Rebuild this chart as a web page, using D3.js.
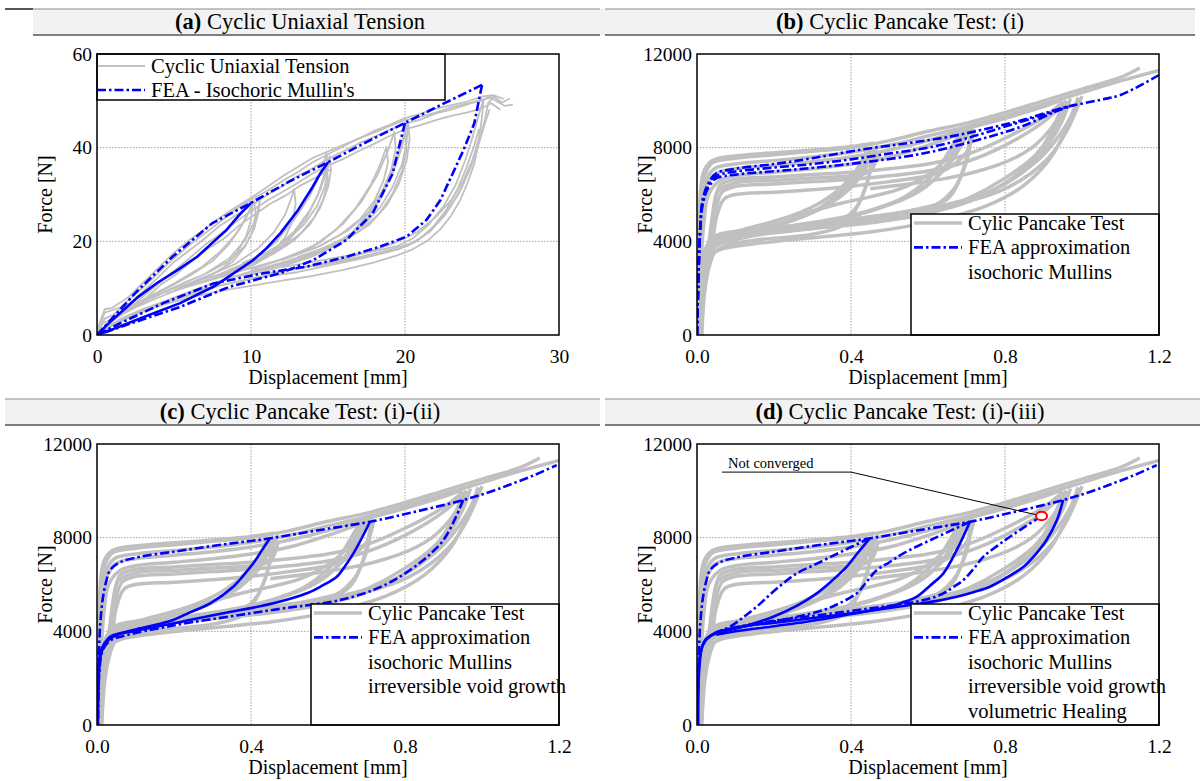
<!DOCTYPE html>
<html>
<head>
<meta charset="utf-8">
<script src="https://cdn.jsdelivr.net/npm/d3@7"></script>
<style>
body { margin: 0; background: #fff; }
svg { font-family: "Liberation Serif", "Times New Roman", serif; }
</style>
</head>
<body>
<svg width="1200" height="781"></svg>
<script>
// panel titles, legends, ticks
let panelLetters = ["(a)", "(b)", "(c)", "(d)"];
let panelTitles = ["Cyclic Uniaxial Tension", "Cyclic Pancake Test: (i)", "Cyclic Pancake Test: (i)-(ii)", "Cyclic Pancake Test: (i)-(iii)"];
let legendA = ["Cyclic Uniaxial Tension", "FEA - Isochoric Mullin's"];
let legendB = ["Cylic Pancake Test", "FEA approximation", "isochoric Mullins"];
let legendC = ["Cylic Pancake Test", "FEA approximation", "isochoric Mullins", "irreversible void growth"];
let legendD = ["Cylic Pancake Test", "FEA approximation", "isochoric Mullins", "irreversible void growth", "volumetric Healing"];
let tensionXTicks = [0, 10, 20, 30], tensionYTicks = [0, 20, 40, 60];
let pancakeXTicks = [0, 0.4, 0.8, 1.2], pancakeYTicks = [0, 4000, 8000, 12000];
let notConvergedLabel = "Not converged";
let notConvergedPoint = [0.895, 8924];
let notConvergedLine = [[0.065, 10800], [0.4, 10800]];

// (a) uniaxial tension, experiment [mm, N]
let tensionVirgin = [
  [[0,0],[0.5,3.5],[1,4.2],[1.5,5.6],[2,6.4],[3,9.3],[4,12.4],[5,15.6],[6,18.1],[7,20.6],[8,23.4],[9,25.5],[10,27.6],[11,29.8],[12,31.7],[13,33.9],[14,35.6],[15,37.6],[16,39.2],[17,40.9],[18,42.3],[19,43.8],[20,45.1],[21,46.0],[22,47.3],[23,48.1],[24,49.2],[25,50.3],[25.8,50.8],[26.3,49.6],[26.8,50.5]],
  [[0,0.5],[0.5,4.8],[1,5.3],[1.5,5.9],[2,7.3],[3,10.2],[4,13.3],[5,16.4],[6,19.2],[7,21.7],[8,24.2],[9,26.8],[10,28.9],[11,30.7],[12,32.8],[13,34.7],[14,36.9],[15,38.6],[16,40.3],[17,42.0],[18,43.2],[19,44.6],[20,45.9],[21,46.6],[22,47.5],[23,48.6],[24,49.4],[25,50.0],[25.5,50.9],[26,49.8],[26.5,48.9],[27,49.2]],
  [[0,0],[1,3.1],[2,5.5],[3,8.2],[4,11.0],[5,13.7],[6,16.4],[7,19.2],[8,21.5],[9,24.1],[10,26.4],[11,28.6],[12,30.5],[13,32.4],[14,34.5],[15,36.2],[16,37.6],[17,39.3],[18,40.8],[19,42.5],[20,43.9],[21,44.8],[22,45.9],[23,46.8],[24,47.5],[25,48.4],[25.6,49.5],[26.2,48.1]],
  [[0,1],[0.5,5.5],[1,5.8],[2,8],[3,11.2],[4,14.4],[5,17.6],[6,20.3],[7,22.6],[8,25.1],[9,27.3],[10,29.3],[11,31.5],[12,33.8],[13,35.8],[14,37.8],[15,39.2],[16,40.6],[17,41.9],[18,43.6],[19,44.9],[20,46.3],[21,47.2],[22,48.3],[23,49.1],[24,49.8],[25,50.9],[25.7,51.2],[26.4,50.4]],
  [[0,0],[0.4,2.6],[1,3.4],[1.6,4.9],[2.4,6.1],[3.2,7.9],[4.2,10.9],[5.2,13.1],[6.2,15.9],[7.2,18.4],[8.2,20.5],[9.2,23.3],[10.2,25.6],[11.2,27.9],[12.2,29.7],[13.2,31.9],[14.2,33.6],[15.2,35.4]]
];
let tensionLoops = [
  [[0.5,2],[2,5.2],[4,9],[6,12.6],[7.5,15.8],[8.5,19.1],[9.3,22.8],[9.8,26],[10.1,27.8],[10.0,24.5],[9.7,21.2],[9.1,17.6],[8.2,14.3],[7,12.1],[5.5,10],[4,8],[2.5,5.9],[1,3.3]],
  [[1,3.8],[3,7.5],[5,11],[6.8,14.5],[8,17.8],[9,21.5],[9.7,25.1],[10.2,28.6],[10.3,25.8],[10.1,22.1],[9.6,18.8],[8.8,15.6],[7.6,13.2],[6,11.1],[4.5,9.3],[3,7],[1.5,4.6]],
  [[3,7],[5,10.2],[7,13],[8.6,16.4],[9.6,20.2],[10.2,24],[10.5,27.4],[10.6,29.5],[10.5,26.4],[10.2,22.6],[9.6,19],[8.6,15.8],[7.2,13.3],[5.5,11]],
  [[5,9.5],[7,12.3],[9,15.2],[10.5,18.6],[11.5,22],[12.2,25.6],[12.6,29],[12.8,31.2],[12.9,28],[12.7,24.3],[12.2,20.8],[11.4,17.5],[10.2,15],[8.5,12.8],[6.5,10.9],[4.5,8.9]],
  [[6,11],[8,13],[10,15.3],[11.5,18.2],[12.8,22.1],[13.8,26.5],[14.5,31],[14.9,35],[15.1,38.2],[15.2,35.2],[15.0,31.5],[14.5,27.2],[13.8,23.5],[12.8,20.2],[11.5,17.4],[10,15],[8,12.6],[6,10.5]],
  [[7,11.5],[9,13.6],[11,16.5],[12.5,20.4],[13.6,25],[14.3,29.5],[14.7,33.6],[14.9,36.4],[15.0,33],[14.7,29],[14.1,25.1],[13.2,21.6],[12,18.7],[10.5,16.1],[8.5,13.8]],
  [[8,13],[10,15.9],[11.6,19.8],[12.8,24.6],[13.8,29.6],[14.5,34.4],[14.9,38.8],[15.0,35.8],[14.8,31.8],[14.3,27.6],[13.5,23.8],[12.4,20.4],[11,17.6],[9.4,15.3]],
  [[8,12.5],[10,14.3],[12,16.2],[14,18.9],[15.5,22.4],[16.8,27.1],[17.8,32.2],[18.4,36.5],[18.8,40.2],[18.9,36.8],[18.6,32.9],[18,28.6],[17.1,24.8],[15.8,21.4],[14.2,18.6],[12,16]],
  [[10,14],[12.5,16.6],[14.5,19.8],[16,23.8],[17.2,28.6],[18.2,34.1],[18.9,39.4],[19.3,43.4],[19.4,39.8],[19.1,35.2],[18.5,30.4],[17.6,26.1],[16.3,22.3],[14.6,19.2],[12.5,16.8]],
  [[9,12.4],[11,14.1],[13,15.9],[15,18.3],[16.5,21.6],[17.7,26.3],[18.7,31.8],[19.4,37.4],[19.9,42.2],[20.2,45.4],[20.3,41.8],[20.1,37.2],[19.6,32.3],[18.8,27.6],[17.7,23.6],[16.2,20.4],[14.2,17.6],[12,15.3],[10,13.4]],
  [[10,12.9],[12,14.6],[14,16.8],[16,19.9],[17.4,24.2],[18.5,29.6],[19.3,35.4],[19.8,40.1],[20,43.6],[20.1,39.6],[19.8,35],[19.2,30.2],[18.3,25.8],[17,22.1],[15.2,19.1],[13,16.6]],
  [[12,14.5],[14,15.6],[16,16.8],[18,17.9],[19.5,19],[20.5,20.6],[21.5,23.4],[22.5,27.5],[23.3,32.1],[23.9,37.2],[24.4,42.4],[24.8,47.1],[25.1,50.3]],
  [[14,14.6],[16,15.8],[18,17.2],[19.6,18.3],[20.8,20.1],[21.8,23],[22.7,26.8],[23.4,31.1],[24,35.8],[24.5,40.5],[24.8,44]],
  [[11,13.1],[13,14.1],[15,15.4],[17,16.6],[19,18.2],[20.5,19.7],[21.6,22],[22.6,25.6],[23.5,30.2],[24.2,35.4],[24.8,41.1],[25.2,46.2],[25.4,49.5],[25.8,51]],
  [[25.1,50.3],[25,46.5],[24.8,42],[24.4,37.5],[23.8,33],[23,28.8],[22,25.2],[20.8,22],[19.3,19.6],[17.5,17.6],[15.5,15.9],[13,14.2],[10.5,12.4],[8,10.6],[5.5,8],[3,5.3],[1,2.4],[0,0]],
  [[20.2,45.4],[20.1,41],[19.8,36.4],[19.2,31.6],[18.4,27.3],[17.3,23.5],[16,20.6],[14.3,18],[12.3,15.7],[10,13.6],[7.5,11],[5,8],[2.5,4.6],[0.5,1.2]],
  [[0,0],[1,2.1],[2.5,4.3],[4,6.2],[6,8],[8,9.4],[10,10.5],[12,11.6],[14,12.6],[16,13.9],[18,15.5],[19.5,17],[20.5,18.3],[21.5,20.2],[22.3,22.6],[23,25.5],[23.6,28.9],[24.1,32.8],[24.5,36.6],[24.7,39.8]],
  [[0,0],[1.5,3.4],[3,5.6],[5,7.9],[7,9.9],[9,11.3],[11,12.5],[13,13.4],[15,14.8],[17,16.2],[19,17.8],[20.2,19.1],[21.2,21.1],[22.1,23.9],[22.9,27.2],[23.7,31.6],[24.3,36.1],[24.8,40.9],[25.2,45.3],[25.5,48.2]]
];

// (a) FEA isochoric Mullins
let feaTensionVirgin = [[0,0],[2.5,9],[4.9,16.7],[7.5,23.9],[10,28.2],[12.5,32.8],[15,36.9],[17.5,41.2],[20,45.3],[22.5,49.4],[25,53.4]];
let feaTensionLoops = [
  [[10,28.2],[9.2,25.5],[8.4,22.4],[7.4,19.4],[6.5,16.7],[5.2,13.8],[3.9,11.1],[2.7,8.2],[1.5,4.7],[0.6,2],[0,0]],
  [[15,36.9],[14.5,34.5],[14,31.6],[13,26.4],[11.9,21.7],[11,18.5],[10.15,16],[8.8,13],[7.55,10.3],[5.4,6.8],[3,3.8],[1,1.2],[0,0]],
  [[20,45.3],[19.6,40],[19.2,34.5],[17.9,26],[16.2,20.3],[14.05,16],[11.9,13.2],[8.6,10.3],[5.4,6],[2.5,2.8],[0,0]],
  [[25,53.4],[24.5,45.2],[23.8,39.5],[23.1,34.5],[22.3,28.8],[21.4,24.6],[20.1,21],[18.4,18.9],[16.2,16.7],[13.6,14.6],[10.8,13.2],[7.55,11],[4.3,6.8],[1.5,2.5],[0,0]]
];

// (b)-(d) pancake test, experiment [mm, N]
let pancakeTests = [
  [[0,0],[0.004,3000],[0.01,5500],[0.02,6800],[0.04,7350],[0.1,7550],[0.2,7700],[0.3,7850],[0.4,8000],[0.5,8300],[0.6,8700],[0.7,9050],[0.8,9500],[0.9,10000],[1.0,10500],[1.1,11000],[1.15,11400]],
  [[0,0],[0.005,2800],[0.012,5200],[0.022,6500],[0.045,7100],[0.1,7300],[0.2,7450],[0.3,7600],[0.4,7800],[0.5,8100],[0.6,8500],[0.7,8900],[0.8,9350],[0.9,9850],[1.0,10350],[1.1,10850],[1.2,11300]],
  [[0,0],[0.006,2600],[0.014,5000],[0.025,6300],[0.05,6900],[0.1,7100],[0.2,7250],[0.3,7400],[0.4,7600],[0.5,7900],[0.6,8300],[0.7,8800],[0.8,9250],[0.9,9750],[0.95,10050]],
  [[0,0],[0.008,2400],[0.018,4800],[0.03,6000],[0.06,6600],[0.1,6800],[0.2,6950],[0.3,7100],[0.4,7300],[0.5,7600],[0.6,8100],[0.7,8700]],
  [[0,0],[0.003,3300],[0.008,5900],[0.018,7000],[0.04,7450],[0.1,7650],[0.2,7780],[0.3,7900],[0.4,8050],[0.46,8200]],
  [[0.01,0],[0.02,3000],[0.035,4200],[0.045,5600],[0.06,6400],[0.1,6650],[0.2,6750],[0.3,6850],[0.4,6950],[0.5,7100],[0.6,7300],[0.7,7700],[0.8,8400],[0.9,9300],[0.95,9950]],
  [[0.012,0],[0.022,2800],[0.038,4000],[0.048,5300],[0.065,6100],[0.1,6350],[0.2,6450],[0.3,6550],[0.4,6650],[0.5,6800],[0.6,7000],[0.7,7400],[0.8,8100],[0.9,9100],[0.96,10000]],
  [[0.012,0],[0.025,2700],[0.04,3900],[0.05,5000],[0.07,5800],[0.1,6000],[0.2,6100],[0.3,6200],[0.4,6350],[0.5,6550],[0.6,6800],[0.65,7100],[0.7,7800],[0.72,8800]],
  [[0.008,0],[0.018,2900],[0.032,4100],[0.042,5300],[0.055,6150],[0.1,6500],[0.2,6600],[0.3,6700],[0.4,6800],[0.45,7000],[0.47,7800]],
  [[0.005,0],[0.012,1200],[0.02,2300],[0.03,3200],[0.04,3700],[0.06,4000],[0.1,4200],[0.2,4400],[0.3,4550],[0.4,4700],[0.5,4900],[0.6,5200],[0.7,5800],[0.8,6700],[0.88,7700],[0.93,8800],[0.96,9800]],
  [[0.002,0],[0.008,1500],[0.014,2800],[0.022,3500],[0.035,3900],[0.06,4150],[0.15,4400],[0.3,4650],[0.45,4900],[0.55,5150],[0.62,5550],[0.67,6300],[0.7,7400],[0.715,8700]],
  [[0.004,0],[0.012,1800],[0.022,2900],[0.035,3400],[0.06,3650],[0.15,3900],[0.3,4150],[0.45,4400],[0.55,4650],[0.65,5000],[0.75,5500],[0.85,6400],[0.92,7600],[0.97,9200],[0.99,10000]],
  [[0.001,0],[0.006,2000],[0.012,3100],[0.025,3800],[0.05,4250],[0.15,4500],[0.3,4750],[0.45,5000],[0.55,5300],[0.65,5800],[0.69,7000],[0.71,8500]],
  [[0.001,0],[0.01,900],[0.02,1900],[0.03,2800],[0.045,3500],[0.07,3800],[0.15,4050],[0.3,4300],[0.38,4700],[0.42,5600],[0.45,7000],[0.46,7900]],
  [[0.003,0],[0.006,1200],[0.012,2400],[0.02,3200],[0.03,3700],[0.06,4050],[0.15,4300],[0.3,4600],[0.4,5200],[0.44,6400],[0.455,7700]],
  [[0.46,8050],[0.44,7400],[0.41,6700],[0.37,6000],[0.32,5400],[0.25,4900],[0.15,4450],[0.08,4150],[0.04,3900],[0.02,3300],[0.01,2000],[0.006,0]],
  [[0.44,7850],[0.42,7200],[0.39,6500],[0.35,5800],[0.3,5250],[0.22,4750],[0.12,4300],[0.06,4000],[0.03,3700],[0.015,2800],[0.008,0]],
  [[0.47,8100],[0.45,7500],[0.43,6900],[0.4,6300],[0.35,5650],[0.28,5100],[0.18,4600],[0.1,4250],[0.05,4000],[0.025,3500],[0.012,2200],[0.007,0]],
  [[0.45,7950],[0.435,7550],[0.415,7050],[0.39,6550],[0.36,6100],[0.32,5650],[0.27,5250],[0.2,4850],[0.12,4500],[0.06,4200],[0.03,3800],[0.015,2600],[0.009,0]],
  [[0.72,9050],[0.69,8200],[0.66,7400],[0.62,6700],[0.57,6100],[0.5,5600],[0.4,5100],[0.3,4800],[0.2,4550],[0.1,4250],[0.05,4000],[0.025,3400],[0.012,1800],[0.008,0]],
  [[0.69,8850],[0.66,8000],[0.63,7200],[0.59,6500],[0.54,5900],[0.47,5400],[0.37,4950],[0.25,4600],[0.12,4200],[0.05,3800],[0.025,3200],[0.01,0]],
  [[0.71,8950],[0.68,8100],[0.64,7100],[0.6,6400],[0.55,5900],[0.45,5300],[0.35,4900],[0.2,4450],[0.08,4050],[0.04,3700],[0.018,2800],[0.009,0]],
  [[0.7,8900],[0.685,8450],[0.665,7900],[0.64,7400],[0.61,6950],[0.57,6550],[0.52,6200],[0.45,5900],[0.38,5650],[0.3,5300],[0.2,4850],[0.1,4400]],
  [[0.97,10100],[0.95,9200],[0.92,8300],[0.88,7500],[0.83,6800],[0.77,6200],[0.7,5700],[0.6,5300],[0.5,5000],[0.35,4700],[0.2,4450],[0.08,4150],[0.04,3850],[0.02,3000],[0.01,0]],
  [[0.95,9950],[0.93,9000],[0.9,8100],[0.86,7300],[0.81,6600],[0.75,6000],[0.68,5550],[0.58,5150],[0.45,4850],[0.3,4550],[0.15,4250],[0.07,3950]],
  [[0.99,10150],[0.97,9300],[0.94,8500],[0.9,7700],[0.85,7000],[0.8,6450],[0.73,5950],[0.63,5500],[0.5,5150],[0.35,4850],[0.2,4550],[0.1,4250]],
  [[1.0,10200],[0.98,9400],[0.96,8700],[0.93,7900],[0.89,7200],[0.84,6600],[0.78,6100],[0.7,5700],[0.6,5400],[0.45,5050],[0.3,4750]],
  [[0.96,10000],[0.945,9500],[0.925,8950],[0.9,8450],[0.87,8000],[0.83,7600],[0.78,7250],[0.72,6950],[0.65,6700],[0.55,6450],[0.45,6250]]
];

// (b) FEA isochoric Mullins
let feaPancakeB = [
  [[0,0],[0.003,2000],[0.008,4500],[0.015,5800],[0.03,6500],[0.05,6900],[0.1,7100],[0.2,7300],[0.3,7550],[0.42,7900],[0.55,8200],[0.65,8450],[0.75,8800],[0.85,9200],[0.95,9700],[1.05,10050],[1.1,10250],[1.2,11100]],
  [[0,0],[0.003,2000],[0.008,4400],[0.015,5700],[0.03,6400],[0.05,6780],[0.1,6980],[0.2,7150],[0.3,7300],[0.4,7500],[0.5,7750],[0.6,8000],[0.7,8400],[0.8,8900],[0.9,9400],[0.97,9800]],
  [[0,0],[0.003,1900],[0.008,4300],[0.015,5600],[0.03,6300],[0.05,6690],[0.1,6850],[0.24,7045],[0.41,7330],[0.59,7760],[0.76,8470],[0.85,8950],[0.93,9530],[0.98,9830]]
];

// (c), (d) FEA first loading
let feaPancakeVirgin = [[0,0],[0.002,1500],[0.005,3000],[0.008,4200],[0.015,5400],[0.025,6200],[0.034,6618],[0.06,6950],[0.112,7186],[0.2,7400],[0.285,7613],[0.37,7800],[0.449,7972],[0.58,8330],[0.709,8680],[0.83,9120],[0.951,9607],[1.02,9950],[1.081,10320],[1.14,10700],[1.194,11100]];

// (c) FEA with irreversible void growth
let feaPancakeC = [
  [[0.449,7972],[0.43,7500],[0.406,6904],[0.38,6380],[0.354,5905],[0.294,5196],[0.24,4800],[0.198,4483],[0.155,4290],[0.112,4129],[0.07,3960],[0.034,3770],[0.018,3450],[0.008,3061],[0.004,2000],[0.002,0]],
  [[0.709,8680],[0.69,8050],[0.666,7331],[0.645,6800],[0.623,6332],[0.585,5950],[0.545,5623],[0.458,5196],[0.328,4769],[0.24,4480],[0.155,4197],[0.1,4020],[0.051,3843],[0.025,3550],[0.01,3000],[0.004,1800],[0.002,0]],
  [[0.951,9607],[0.93,8800],[0.9,7899],[0.875,7450],[0.848,7045],[0.787,6332],[0.718,5764],[0.631,5337],[0.553,5124],[0.501,5020],[0.371,4700],[0.198,4250],[0.068,3800],[0.034,3600],[0.015,3200],[0.006,2200],[0.003,0]]
];

// (d) FEA with volumetric healing: reloading (upper) and unloading (lower)
let feaPancakeDReload = [
  [[0.449,7972],[0.4,7600],[0.35,7200],[0.3,6800],[0.259,6477],[0.22,6000],[0.185,5500],[0.155,5052],[0.12,4600],[0.086,4197],[0.05,3950],[0.025,3700]],
  [[0.709,8680],[0.62,8000],[0.536,7331],[0.5,6950],[0.467,6618],[0.44,6100],[0.415,5623],[0.37,5200],[0.328,4910],[0.26,4620],[0.198,4411],[0.12,4200],[0.06,3980]],
  [[0.895,8924],[0.855,8500],[0.813,8041],[0.78,7650],[0.744,7188],[0.72,6700],[0.692,6191],[0.665,5880],[0.64,5623],[0.6,5380],[0.545,5196],[0.45,4980],[0.33,4720],[0.2,4450],[0.1,4170],[0.05,3950]]
];
let feaPancakeDUnload = [
  [[0.449,7972],[0.42,7400],[0.389,6760],[0.35,6150],[0.311,5623],[0.26,5100],[0.198,4624],[0.13,4250],[0.068,3984],[0.035,3800],[0.015,3400],[0.006,2400],[0.003,0]],
  [[0.709,8680],[0.68,7650],[0.64,6477],[0.605,5950],[0.571,5478],[0.52,5150],[0.458,4910],[0.37,4650],[0.285,4411],[0.2,4220],[0.1,4000],[0.05,3850]],
  [[0.951,9607],[0.935,8750],[0.908,7899],[0.88,7300],[0.848,6760],[0.805,6300],[0.761,5905],[0.72,5680],[0.675,5478],[0.615,5280],[0.553,5124],[0.45,4880],[0.328,4624],[0.22,4400],[0.112,4197],[0.05,3950],[0.02,3600],[0.008,3000],[0.003,1500],[0.002,0]]
];

let plotLeft = 97, plotTop = 54, plotW = 462, plotH = 281;
let blue = "#0000ff", grey = "#c0c0c0";
let dashDot = "9,3,2.5,3";

var svg = d3.select("svg");

function drawPanel(p) {
  let g = svg.append("g").attr("transform", `translate(${p.ox},${p.oy})`);

  // title bar
  g.append("rect")
      .attr("x", p.barX0).attr("y", 9)
      .attr("width", p.barX1 - p.barX0).attr("height", 26)
      .attr("fill", "#f2f2f2");
  g.append("line").attr("x1", p.lineX0).attr("x2", p.barX1).attr("y1", 9).attr("y2", 9)
      .attr("stroke", "#8a8a8a").attr("stroke-width", 1.2);
  g.append("line").attr("x1", p.lineX0).attr("x2", p.barX1).attr("y1", 35).attr("y2", 35)
      .attr("stroke", "#555").attr("stroke-width", 1.5);
  if (p.index === 0) {
    g.append("line").attr("x1", 5).attr("x2", 33).attr("y1", 9).attr("y2", 9)
        .attr("stroke", "#555").attr("stroke-width", 2);
  }
  let title = g.append("text")
      .attr("x", 300).attr("y", 29)
      .attr("text-anchor", "middle")
      .attr("font-size", 22.5);
  title.append("tspan").attr("font-weight", "bold").text(panelLetters[p.index]);
  title.append("tspan").text(" " + panelTitles[p.index]);

  let x = d3.scaleLinear().domain(p.xDomain).range([plotLeft, plotLeft + plotW]);
  let y = d3.scaleLinear().domain(p.yDomain).range([plotTop + plotH, plotTop]);

  // grid
  g.append("g").selectAll("line")
      .data(p.xTicks.slice(1, -1))
      .enter().append("line")
      .attr("x1", d => x(d)).attr("x2", d => x(d))
      .attr("y1", plotTop).attr("y2", plotTop + plotH)
      .attr("stroke", "#888").attr("stroke-width", 0.8).attr("stroke-dasharray", "1.5,1.5");
  g.append("g").selectAll("line")
      .data(p.yTicks.slice(1, -1))
      .enter().append("line")
      .attr("x1", plotLeft).attr("x2", plotLeft + plotW)
      .attr("y1", d => y(d)).attr("y2", d => y(d))
      .attr("stroke", "#888").attr("stroke-width", 0.8).attr("stroke-dasharray", "1.5,1.5");

  // axes
  let xAxis = g.append("g")
      .attr("transform", `translate(0,${plotTop + plotH})`)
      .call(d3.axisBottom(x).tickValues(p.xTicks).tickFormat(p.xFormat).tickSize(0).tickPadding(14.5));
  let yAxis = g.append("g")
      .attr("transform", `translate(${plotLeft},0)`)
      .call(d3.axisLeft(y).tickValues(p.yTicks).tickFormat(d3.format("d")).tickSize(0).tickPadding(5));
  [xAxis, yAxis].forEach(a => {
    a.select(".domain").remove();
    a.selectAll("text").attr("font-size", 19.5).attr("fill", "#000")
        .attr("font-family", "Liberation Serif, Times New Roman, serif");
  });

  g.append("text")
      .attr("x", plotLeft + plotW / 2).attr("y", plotTop + plotH + 49)
      .attr("text-anchor", "middle").attr("font-size", 20)
      .text("Displacement [mm]");
  g.append("text")
      .attr("transform", `translate(45,${plotTop + plotH / 2}) rotate(-90)`)
      .attr("text-anchor", "middle").attr("dominant-baseline", "central")
      .attr("font-size", 20)
      .text("Force [N]");

  // curves
  let clipId = "clip" + p.index;
  g.append("clipPath").attr("id", clipId)
      .append("rect").attr("x", plotLeft).attr("y", plotTop).attr("width", plotW).attr("height", plotH);
  let plot = g.append("g").attr("clip-path", `url(#${clipId})`);

  let line = d3.line().x(d => x(d[0])).y(d => y(d[1])).curve(p.curve);

  plot.append("g").selectAll("path")
      .data(p.grey)
      .enter().append("path")
      .attr("d", line)
      .attr("fill", "none").attr("stroke", grey)
      .attr("stroke-width", p.greyWidth).attr("stroke-linejoin", "round");

  p.fea.forEach(set => {
    plot.append("g").selectAll("path")
        .data(set.curves)
        .enter().append("path")
        .attr("d", line)
        .attr("fill", "none").attr("stroke", blue)
        .attr("stroke-width", 2.6)
        .attr("stroke-dasharray", (d, i) => set.solid(i) ? null : dashDot);
  });

  // annotation (d)
  if (p.note) {
    let target = [x(notConvergedPoint[0]), y(notConvergedPoint[1])];
    g.append("polyline")
        .attr("points", [[x(notConvergedLine[0][0]), y(notConvergedLine[0][1])],
                         [x(notConvergedLine[1][0]), y(notConvergedLine[1][1])], target].join(" "))
        .attr("fill", "none").attr("stroke", "#000").attr("stroke-width", 1);
    g.append("text")
        .attr("x", x(notConvergedLine[0][0]) + 6).attr("y", y(notConvergedLine[0][1]) - 4)
        .attr("font-size", 14.5)
        .text(notConvergedLabel);
    g.append("ellipse")
        .attr("cx", target[0]).attr("cy", target[1])
        .attr("rx", 5.5).attr("ry", 4.2)
        .attr("fill", "#fff").attr("stroke", "#ff0000").attr("stroke-width", 2);
  }

  // legend
  let lg = p.legend;
  g.append("rect")
      .attr("x", lg.x0).attr("y", lg.y0)
      .attr("width", lg.x1 - lg.x0).attr("height", lg.y1 - lg.y0)
      .attr("fill", "#fff").attr("stroke", "#000").attr("stroke-width", 1.5);
  lg.labels.forEach((label, i) => {
    let ly = lg.y0 + lg.first + i * lg.step;
    if (i === 0) {
      g.append("line").attr("x1", lg.x0 + lg.pad).attr("x2", lg.x0 + lg.pad + 48)
          .attr("y1", ly).attr("y2", ly)
          .attr("stroke", grey).attr("stroke-width", p.greyWidth);
    } else if (i === 1) {
      g.append("line").attr("x1", lg.x0 + lg.pad).attr("x2", lg.x0 + lg.pad + 48)
          .attr("y1", ly).attr("y2", ly)
          .attr("stroke", blue).attr("stroke-width", 2.6).attr("stroke-dasharray", dashDot);
    }
    g.append("text")
        .attr("x", lg.x0 + lg.pad + 54).attr("y", ly + 7)
        .attr("font-size", 20.5)
        .text(label);
  });

  // frame
  g.append("rect")
      .attr("x", plotLeft).attr("y", plotTop).attr("width", plotW).attr("height", plotH)
      .attr("fill", "none").attr("stroke", "#000").attr("stroke-width", 1.5);
}

let pancakeBase = {
  xDomain: [0, 1.2], yDomain: [0, 12000],
  xTicks: pancakeXTicks, yTicks: pancakeYTicks,
  xFormat: d3.format(".1f"),
  grey: pancakeTests, greyWidth: 3.5,
  curve: d3.curveCatmullRom.alpha(0.5)
};
let legendBox = labels => ({x0: 311, x1: plotLeft + plotW, y0: 214, y1: plotTop + plotH, first: 9, step: 24.4, pad: 3, labels: labels});

drawPanel({
  index: 0, ox: 0, oy: 0, barX0: 33, barX1: 600, lineX0: 33,
  xDomain: [0, 30], yDomain: [0, 60],
  xTicks: tensionXTicks, yTicks: tensionYTicks,
  xFormat: d3.format("d"),
  grey: tensionVirgin.concat(tensionLoops), greyWidth: 1.8,
  curve: d3.curveLinear,
  fea: [
    {curves: [feaTensionVirgin], solid: i => false},
    {curves: feaTensionLoops, solid: i => i < 2}
  ],
  legend: {x0: plotLeft, x1: 445, y0: plotTop, y1: 100, first: 12, step: 24, pad: 0, labels: legendA}
});

drawPanel(Object.assign({}, pancakeBase, {
  index: 1, ox: 600, oy: 0, barX0: 0, barX1: 595, lineX0: 5,
  fea: [{curves: feaPancakeB, solid: i => false}],
  legend: legendBox(legendB)
}));

drawPanel(Object.assign({}, pancakeBase, {
  index: 2, ox: 0, oy: 390, barX0: 5, barX1: 600, lineX0: 5,
  fea: [
    {curves: [feaPancakeVirgin], solid: i => false},
    {curves: feaPancakeC, solid: i => i < 2}
  ],
  legend: legendBox(legendC)
}));

drawPanel(Object.assign({}, pancakeBase, {
  index: 3, ox: 600, oy: 390, barX0: 5, barX1: 600, lineX0: 5,
  fea: [
    {curves: [feaPancakeVirgin], solid: i => false},
    {curves: feaPancakeDReload, solid: i => false},
    {curves: feaPancakeDUnload, solid: i => true}
  ],
  note: true,
  legend: legendBox(legendD)
}));
</script>
</body>
</html>
